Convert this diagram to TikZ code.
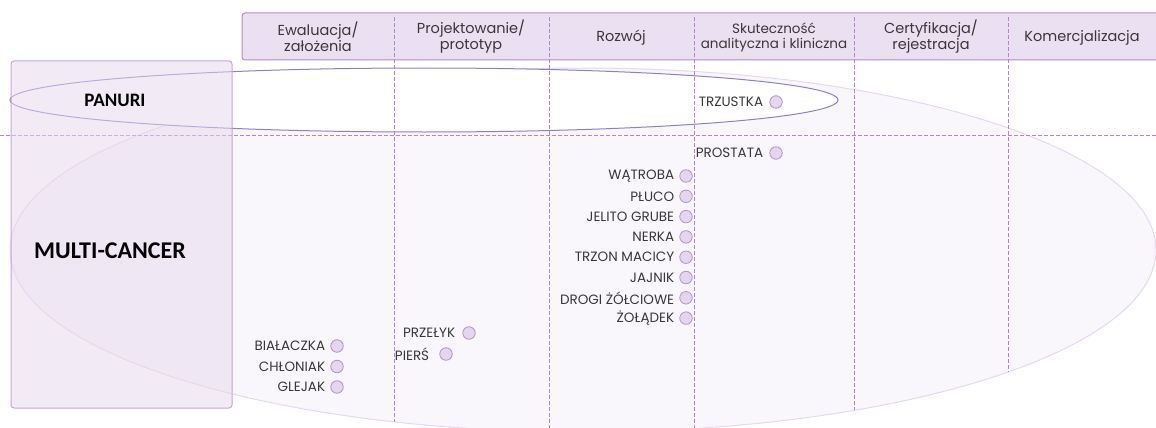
\documentclass[tikz,border=0pt]{standalone}
\usepackage{fontspec}
\setmainfont{Poppins}
\newfontfamily\calibfont{Carlito}
\usetikzlibrary{positioning}

\definecolor{hdrfill}{HTML}{EBE0F1}
\definecolor{hdrline}{HTML}{B68CC9}
\definecolor{boxfill}{HTML}{E6D8EE}
\definecolor{boxline}{HTML}{C4A6D6}
\definecolor{ovalfill}{HTML}{FAF7FC}
\definecolor{ovalline}{HTML}{E6D8EF}
\definecolor{panline}{HTML}{8E80C2}
\definecolor{gridline}{HTML}{B286C8}
\definecolor{dotfill}{HTML}{E4D6EE}
\definecolor{dotline}{HTML}{B593CC}
\definecolor{txtgray}{HTML}{383838}

\begin{document}
\begin{tikzpicture}[x=1pt, y=-1pt,
  hdr/.style={text=txtgray, align=center, font=\fontsize{14.5}{16}\selectfont},
  organ/.style={text=txtgray, inner sep=1pt, font=\fontsize{13.5}{14}\selectfont},
  organdot/.style={circle, draw=dotline, fill=dotfill, line width=0.8pt, inner sep=0pt, minimum size=12.5pt},
  grid/.style={draw=gridline, line width=0.9pt, dash pattern=on 4pt off 2pt},
  biglabel/.style={text=black, font=\calibfont\bfseries}]
\useasboundingbox (0,0) rectangle (1156,428);
					%%
\coordinate (oc) at (583,250);
\coordinate (pc) at (424,100);

% ovals
\draw[fill=ovalfill, draw=ovalline, line width=1pt] (oc) ellipse [x radius=573, y radius=182];
\draw[fill=white, draw=panline, line width=1pt] (pc) ellipse [x radius=414, y radius=32];

% header bar
\draw[fill=hdrfill, draw=hdrline, line width=1pt, rounded corners=3] (242,13) rectangle (1162,60);

\foreach \x in {394, 549, 694, 854, 1008}{
\pgfmathsetmacro\yend{250+182*sqrt(1-((\x-583)/573)^2)}
\coordinate (top\x) at (\x,17);
\coordinate (bot\x) at (\x,\yend);
\draw[grid] (top\x) -- (bot\x);
}
\coordinate (hl) at (0,135);
\coordinate (hr) at (1156,135);
\draw[grid] (hl) -- (hr);

% row box
\draw[fill=boxfill, fill opacity=0.5, draw=boxline, line width=1pt, rounded corners=3] (11,61) rectangle (232,408);

\node[biglabel, font=\calibfont\bfseries\fontsize{19}{22}\selectfont] (pan) at (115,100) {PANURI};
\node[biglabel, font=\calibfont\bfseries\fontsize{24}{28}\selectfont] (multi) at (110,251) {MULTI-CANCER};

\node[hdr] (h1) at (318,37) {Ewaluacja/\\założenia};
\node[hdr] (h2) at (471,37) {Projektowanie/\\prototyp};
\node[hdr] (h3) at (621,38) {Rozwój};
\node[hdr, font=\fontsize{13.5}{15}\selectfont] (h4) at (774,37) {Skuteczność\\analityczna i kliniczna};
\node[hdr] (h5) at (931,37) {Certyfikacja/\\rejestracja};
\node[hdr] (h6) at (1082,38) {Komercjalizacja};

% organs
\node[organdot] (dtrz) at (776,102) {};
\node[organ, left=5pt of dtrz] (ttrz) {TRZUSTKA};
\node[organdot] (dpro) at (776,153) {};
\node[organ, left=5pt of dpro] (tpro) {PROSTATA};

\foreach \n/\t [count=\i] in {wat/WĄTROBA, plu/PŁUCO, jel/JELITO GRUBE, ner/NERKA,
  trz/TRZON MACICY, jaj/JAJNIK, dro/DROGI ŻÓŁCIOWE, zol/ŻOŁĄDEK}{
\node[organdot] (d\n) at (686,{176+(\i-1)*20.3}) {};
\node[organ, left=4pt of d\n] (t\n) {\t};
}

\foreach \n/\t [count=\i] in {bia/BIAŁACZKA, chl/CHŁONIAK, gle/GLEJAK}{
\node[organdot] (d\n) at (337,{346+(\i-1)*20.5}) {};
\node[organ, left=4pt of d\n] (t\n) {\t};
}

\node[organdot] (dprz) at (469,333) {};
\node[organ, left=6pt of dprz] (tprz) {PRZEŁYK};
\node[organdot] (dpie) at (446,354) {};
\node[organ, left=9pt of dpie] (tpie) {PIERŚ};
				\end{tikzpicture}
\end{document}
